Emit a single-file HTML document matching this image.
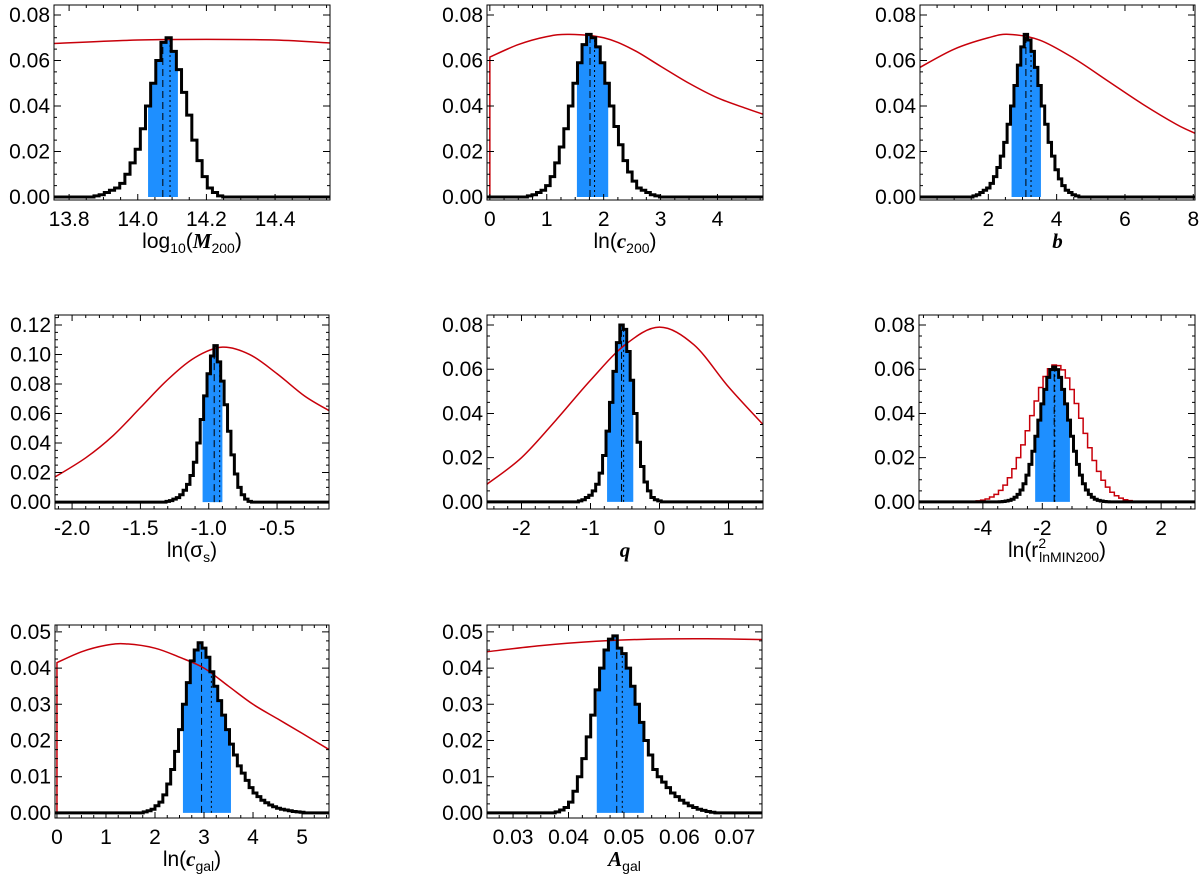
<!DOCTYPE html>
<html><head><meta charset="utf-8"><style>
html,body{margin:0;padding:0;background:#fff}
svg{display:block}
text{font-family:"Liberation Sans",sans-serif;fill:#000}
.tl{font-size:21px}
.ti{font-size:21px}
</style></head><body>
<svg id="fig" width="1200" height="881" viewBox="0 0 1200 881" xmlns="http://www.w3.org/2000/svg"></svg>
<script>
// ---- data (bin centers / values) ----
const p1HistX=[13.88,13.895,13.91,13.925,13.94,13.955,13.97,13.985,14.0,14.015,14.03,14.045,14.06,14.075,14.09,14.105,14.12,14.135,14.15,14.165,14.18,14.195,14.21,14.225,14.24];
const p1HistY=[0.0005,0.001,0.002,0.003,0.004,0.006,0.010,0.015,0.021,0.030,0.040,0.050,0.060,0.068,0.070,0.064,0.056,0.046,0.036,0.025,0.016,0.009,0.004,0.002,0.0005];
const p1PriorX=[13.756,14.0,14.2,14.4,14.56];
const p1PriorY=[0.0675,0.0690,0.0693,0.0690,0.0677];
const p1Band=[14.03,14.117];const p1Lines=[14.073,14.094];

const p2HistX=[0.70,0.78,0.86,0.94,1.02,1.10,1.18,1.26,1.34,1.42,1.50,1.58,1.66,1.74,1.82,1.90,1.98,2.06,2.14,2.22,2.30,2.38,2.46,2.54,2.62,2.70,2.78,2.86,2.94];
const p2HistY=[0.0005,0.001,0.002,0.003,0.005,0.009,0.015,0.022,0.030,0.040,0.050,0.059,0.067,0.0715,0.070,0.066,0.059,0.050,0.040,0.031,0.023,0.016,0.011,0.007,0.004,0.003,0.002,0.001,0.0005];
const p2PriorX=[0,0,0.5,1.0,1.4,2.0,2.5,3.0,3.5,4.0,4.5,4.8];
const p2PriorY=[0,0.0615,0.067,0.0705,0.0715,0.070,0.065,0.0575,0.050,0.0436,0.039,0.0364];
const p2Band=[1.53,2.08];const p2Lines=[1.76,1.84];

const p3HistX=[1.6,1.7,1.8,1.9,2.0,2.1,2.2,2.3,2.4,2.5,2.6,2.7,2.8,2.9,3.0,3.1,3.2,3.3,3.4,3.5,3.6,3.7,3.8,3.9,4.0,4.1,4.2,4.3,4.4,4.5,4.6];
const p3HistY=[0.0005,0.001,0.002,0.003,0.004,0.006,0.009,0.013,0.018,0.024,0.032,0.040,0.049,0.058,0.066,0.0715,0.069,0.064,0.057,0.049,0.040,0.032,0.024,0.018,0.012,0.008,0.005,0.003,0.002,0.001,0.0005];
const p3PriorX=[0,1,2,2.6,3.5,4.5,5.5,6.5,7.5,8.05];
const p3PriorY=[0.057,0.065,0.070,0.0715,0.069,0.061,0.051,0.041,0.032,0.028];
const p3Band=[2.68,3.54];const p3Lines=[3.1,3.25];

const p4HistX=[-1.3,-1.275,-1.25,-1.225,-1.2,-1.175,-1.15,-1.125,-1.1,-1.075,-1.05,-1.025,-1.0,-0.975,-0.95,-0.925,-0.9,-0.875,-0.85,-0.825,-0.8,-0.775,-0.75,-0.725,-0.7];
const p4HistY=[0.0005,0.001,0.002,0.003,0.005,0.008,0.012,0.018,0.027,0.040,0.056,0.072,0.087,0.099,0.106,0.095,0.082,0.066,0.048,0.032,0.019,0.010,0.005,0.002,0.0005];
const p4PriorX=[-2.125,-1.9,-1.7,-1.5,-1.3,-1.1,-0.9,-0.7,-0.5,-0.3,-0.12];
const p4PriorY=[0.017,0.030,0.045,0.064,0.083,0.098,0.105,0.100,0.087,0.072,0.062];
const p4Band=[-1.045,-0.90];const p4Lines=[-0.96,-0.92];

const p5HistX=[-1.15,-1.1,-1.05,-1.0,-0.95,-0.9,-0.85,-0.8,-0.75,-0.7,-0.65,-0.6,-0.55,-0.5,-0.45,-0.4,-0.35,-0.3,-0.25,-0.2,-0.15,-0.1,-0.05,0.0];
const p5HistY=[0.0005,0.001,0.002,0.003,0.005,0.008,0.013,0.021,0.032,0.045,0.059,0.072,0.080,0.078,0.068,0.055,0.040,0.027,0.016,0.009,0.005,0.002,0.001,0.0005];
const p5PriorX=[-2.5,-2,-1.5,-1,-0.5,0,0.5,1,1.5];
const p5PriorY=[0.008,0.020,0.037,0.055,0.071,0.079,0.071,0.052,0.035];
const p5Band=[-0.76,-0.38];const p5Lines=[-0.55,-0.52];

const p6HistX=[-3.4,-3.3,-3.2,-3.1,-3.0,-2.9,-2.8,-2.7,-2.6,-2.5,-2.4,-2.3,-2.2,-2.1,-2.0,-1.9,-1.8,-1.7,-1.6,-1.5,-1.4,-1.3,-1.2,-1.1,-1.0,-0.9,-0.8,-0.7,-0.6,-0.5,-0.4,-0.3,-0.2,-0.1,0.0,0.1,0.2];
const p6HistY=[0.0001,0.0002,0.0004,0.0007,0.0012,0.0021,0.0034,0.0054,0.0082,0.0121,0.0170,0.0229,0.0297,0.0370,0.0443,0.0509,0.0563,0.0598,0.061,0.0598,0.0563,0.0509,0.0443,0.0370,0.0297,0.0229,0.0170,0.0121,0.0082,0.0054,0.0034,0.0021,0.0012,0.0007,0.0004,0.0002,0.0001];
const p6RedX=[-4.6,-4.45,-4.3,-4.15,-4.0,-3.85,-3.7,-3.55,-3.4,-3.25,-3.1,-2.95,-2.8,-2.65,-2.5,-2.35,-2.2,-2.05,-1.9,-1.75,-1.6,-1.45,-1.3,-1.15,-1.0,-0.85,-0.7,-0.55,-0.4,-0.25,-0.1,0.05,0.2,0.35,0.5,0.65,0.8,0.95,1.1,1.25,1.4,1.55];
const p6RedY=[0.0001,0.0001,0.0003,0.0005,0.0008,0.0013,0.0022,0.0034,0.0052,0.0076,0.0109,0.0150,0.0200,0.0258,0.0322,0.0390,0.0456,0.0517,0.0567,0.0602,0.0619,0.0616,0.0597,0.0560,0.0508,0.0445,0.0378,0.0310,0.0245,0.0187,0.0138,0.0098,0.0067,0.0044,0.0028,0.0017,0.0010,0.0006,0.0003,0.0002,0.0001,0.0001];
const p6Band=[-2.24,-1.07];const p6Lines=[-1.6,-1.58];

const p7HistX=[1.8,1.88,1.96,2.04,2.12,2.2,2.28,2.36,2.44,2.52,2.6,2.68,2.76,2.84,2.92,3.0,3.08,3.16,3.24,3.32,3.40,3.48,3.56,3.64,3.72,3.80,3.88,3.96,4.04,4.12,4.2,4.28,4.36,4.44,4.52,4.6,4.68,4.76,4.84,4.92,5.0];
const p7HistY=[0.0003,0.0006,0.001,0.002,0.003,0.005,0.008,0.012,0.017,0.023,0.030,0.036,0.042,0.045,0.047,0.0455,0.043,0.039,0.035,0.031,0.027,0.023,0.019,0.016,0.013,0.011,0.009,0.007,0.0055,0.0045,0.0035,0.0028,0.0022,0.0017,0.0013,0.001,0.0008,0.0006,0.0004,0.0003,0.0002];
const p7PriorX=[0,0,0.5,1.0,1.4,2.0,2.5,3.0,3.5,4.0,4.5,5.0,5.55];
const p7PriorY=[0,0.0415,0.0445,0.0463,0.0467,0.0455,0.043,0.040,0.035,0.030,0.026,0.022,0.0175];
const p7Band=[2.57,3.55];const p7Lines=[2.95,3.15];

const p8HistX=[0.0380,0.0388,0.0396,0.0404,0.0412,0.0420,0.0428,0.0436,0.0444,0.0452,0.0460,0.0468,0.0476,0.0484,0.0492,0.0500,0.0508,0.0516,0.0524,0.0532,0.0540,0.0548,0.0556,0.0564,0.0572,0.0580,0.0588,0.0596,0.0604,0.0612,0.0620,0.0628,0.0636,0.0644,0.0652,0.0660];
const p8HistY=[0.0003,0.0008,0.0015,0.003,0.006,0.010,0.015,0.021,0.027,0.034,0.040,0.045,0.048,0.0489,0.0455,0.044,0.040,0.035,0.030,0.025,0.020,0.016,0.012,0.010,0.0085,0.007,0.0055,0.0045,0.0035,0.0027,0.002,0.0015,0.001,0.0007,0.0004,0.0002];
const p8PriorX=[0.0253,0.035,0.045,0.055,0.065,0.0749];
const p8PriorY=[0.0445,0.0462,0.0474,0.0480,0.0481,0.0479];
const p8Band=[0.0451,0.0536];const p8Lines=[0.0487,0.0497];

// ---- tick labels ----
const p1XTicks=[13.8,14.0,14.2,14.4];const p1XLabels=["13.8","14.0","14.2","14.4"];
const p2XTicks=[0,1,2,3,4];const p2XLabels=["0","1","2","3","4"];
const p3XTicks=[2,4,6,8];const p3XLabels=["2","4","6","8"];
const p4XTicks=[-2,-1.5,-1,-0.5];const p4XLabels=["-2.0","-1.5","-1.0","-0.5"];
const p5XTicks=[-2,-1,0,1];const p5XLabels=["-2","-1","0","1"];
const p6XTicks=[-4,-2,0,2];const p6XLabels=["-4","-2","0","2"];
const p7XTicks=[0,1,2,3,4,5];const p7XLabels=["0","1","2","3","4","5"];
const p8XTicks=[0.03,0.04,0.05,0.06,0.07];const p8XLabels=["0.03","0.04","0.05","0.06","0.07"];
const y8Ticks=[0,0.02,0.04,0.06,0.08];const y8Labels=["0.00","0.02","0.04","0.06","0.08"];
const y12Ticks=[0,0.02,0.04,0.06,0.08,0.10,0.12];const y12Labels=["0.00","0.02","0.04","0.06","0.08","0.10","0.12"];
const y5Ticks=[0,0.01,0.02,0.03,0.04,0.05];const y5Labels=["0.00","0.01","0.02","0.03","0.04","0.05"];

const NS="http://www.w3.org/2000/svg";
const svg=document.getElementById('fig');
function mk(tag,attrs,parent){const e=document.createElementNS(NS,tag);for(const k in attrs)e.setAttribute(k,attrs[k]);(parent||svg).appendChild(e);return e;}

const panels=[
 {id:'log-m200',px:[54,330],py:[5,200],xr:[13.756,14.56],yr:[-0.0013,0.0844],xt:p1XTicks,xl:p1XLabels,xm:0.05,yt:y8Ticks,yl:y8Labels,ym:0.005,hx:p1HistX,hy:p1HistY,rx:p1PriorX,ry:p1PriorY,band:p1Band,lines:p1Lines,title:'m200'},
 {id:'ln-c200',px:[487,763],py:[5,200],xr:[-0.05,4.8],yr:[-0.0013,0.0844],xt:p2XTicks,xl:p2XLabels,xm:0.25,yt:y8Ticks,yl:y8Labels,ym:0.005,hx:p2HistX,hy:p2HistY,rx:p2PriorX,ry:p2PriorY,band:p2Band,lines:p2Lines,title:'c200'},
 {id:'b',px:[920,1195],py:[5,200],xr:[0.0,8.05],yr:[-0.0013,0.0844],xt:p3XTicks,xl:p3XLabels,xm:0.5,yt:y8Ticks,yl:y8Labels,ym:0.005,hx:p3HistX,hy:p3HistY,rx:p3PriorX,ry:p3PriorY,band:p3Band,lines:p3Lines,title:'b'},
 {id:'ln-sigma-s',px:[55,329],py:[315,509],xr:[-2.125,-0.12],yr:[-0.0047,0.1268],xt:p4XTicks,xl:p4XLabels,xm:0.1,yt:y12Ticks,yl:y12Labels,ym:0.005,hx:p4HistX,hy:p4HistY,rx:p4PriorX,ry:p4PriorY,band:p4Band,lines:p4Lines,title:'sig'},
 {id:'q',px:[487,763],py:[315,509],xr:[-2.5,1.5],yr:[-0.0032,0.0845],xt:p5XTicks,xl:p5XLabels,xm:0.2,yt:y8Ticks,yl:y8Labels,ym:0.005,hx:p5HistX,hy:p5HistY,rx:p5PriorX,ry:p5PriorY,band:p5Band,lines:p5Lines,title:'q'},
 {id:'ln-r2',px:[919,1195],py:[315,509],xr:[-6.15,3.14],yr:[-0.0032,0.0845],xt:p6XTicks,xl:p6XLabels,xm:0.5,yt:y8Ticks,yl:y8Labels,ym:0.005,hx:p6HistX,hy:p6HistY,redHist:[p6RedX,p6RedY],band:p6Band,lines:p6Lines,title:'r2'},
 {id:'ln-cgal',px:[55,329],py:[625,818],xr:[-0.04,5.55],yr:[-0.0014,0.0519],xt:p7XTicks,xl:p7XLabels,xm:0.25,yt:y5Ticks,yl:y5Labels,ym:0.0025,hx:p7HistX,hy:p7HistY,rx:p7PriorX,ry:p7PriorY,band:p7Band,lines:p7Lines,title:'cgal'},
 {id:'a-gal',px:[487,762],py:[625,818],xr:[0.0253,0.0749],yr:[-0.0014,0.0519],xt:p8XTicks,xl:p8XLabels,xm:0.0025,yt:y5Ticks,yl:y5Labels,ym:0.0025,hx:p8HistX,hy:p8HistY,rx:p8PriorX,ry:p8PriorY,band:p8Band,lines:p8Lines,title:'agal'}
];

function histPts(P,X,Y,xs,ys){
 const w=X.length>1?(X[1]-X[0]):1;let pts=[[xs(P.xr[0]),ys(0)]];
 for(let i=0;i<X.length;i++){const a=X[i]-w/2,b=X[i]+w/2;
  if(i===0)pts.push([xs(a),ys(0)]);
  pts.push([xs(a),ys(Y[i])]);pts.push([xs(b),ys(Y[i])]);}
 pts.push([xs(X[X.length-1]+w/2),ys(0)]);pts.push([xs(P.xr[1]),ys(0)]);
 return pts;
}
function histAt(X,Y,v){const w=X[1]-X[0];for(let i=0;i<X.length;i++){if(v>=X[i]-w/2&&v<X[i]+w/2)return Y[i];}return 0;}
function smoothPath(pts){
 let d='M'+pts[0][0]+','+pts[0][1];
 for(let i=0;i<pts.length-1;i++){
  const p0=pts[Math.max(0,i-1)],p1=pts[i],p2=pts[i+1],p3=pts[Math.min(pts.length-1,i+2)];
  const c1=[p1[0]+(p2[0]-p0[0])/6,p1[1]+(p2[1]-p0[1])/6];
  const c2=[p2[0]-(p3[0]-p1[0])/6,p2[1]-(p3[1]-p1[1])/6];
  d+=`C${c1[0]},${c1[1]} ${c2[0]},${c2[1]} ${p2[0]},${p2[1]}`;
 }
 return d;
}

panels.forEach((P,pi)=>{
 const g=mk('g',{});
 
 
 const [x0,x1]=P.px,[yt,yb]=P.py;
 const xs=v=>x0+(v-P.xr[0])/(P.xr[1]-P.xr[0])*(x1-x0);
 const ys=v=>yb-(v-P.yr[0])/(P.yr[1]-P.yr[0])*(yb-yt);
 const cid='clip'+pi;
 const cp=mk('clipPath',{id:cid},g);mk('rect',{x:x0,y:yt,width:x1-x0,height:yb-yt},cp);
 const hp=histPts(P,P.hx,P.hy,xs,ys);
 const bc='band'+pi;const bcp=mk('clipPath',{id:bc},g);
 mk('rect',{x:xs(P.band[0]),y:yt,width:xs(P.band[1])-xs(P.band[0]),height:yb-yt},bcp);
 const bg=mk('g',{'clip-path':'url(#'+bc+')'},g);
 const band=mk('polygon',{points:hp.map(p=>p.join(',')).join(' '),fill:'#1e8fff',stroke:'none'},bg);
 
 
 const cg=mk('g',{'clip-path':'url(#'+cid+')'},g);
 const l1=mk('line',{x1:xs(P.lines[0]),x2:xs(P.lines[0]),y1:ys(0),y2:ys(histAt(P.hx,P.hy,P.lines[0])),stroke:'#000','stroke-width':1,'stroke-dasharray':'7,4'},cg);
 
 
 const l2=mk('line',{x1:xs(P.lines[1]),x2:xs(P.lines[1]),y1:ys(0),y2:ys(histAt(P.hx,P.hy,P.lines[1])),stroke:'#000','stroke-width':1,'stroke-dasharray':'2,3'},cg);
 
 
 let red;
 if(P.redHist){
  const rp=histPts(P,P.redHist[0],P.redHist[1],xs,ys);
  red=mk('polyline',{points:rp.map(p=>p.join(',')).join(' '),fill:'none',stroke:'#c8000a','stroke-width':1.5},cg);
 } else {
  let pts=P.rx.map((v,i)=>[xs(v),ys(P.ry[i])]);
  let d;
  if(P.rx[0]===P.rx[1]){d='M'+pts[0].join(',')+'L'+pts[1].join(',')+smoothPath(pts.slice(1)).replace(/^M[^C]*/,'');}
  else d=smoothPath(pts);
  red=mk('path',{d:d,fill:'none',stroke:'#c8000a','stroke-width':1.5},cg);
 }
 
 
 const hist=mk('polyline',{points:hp.map(p=>p.join(',')).join(' '),fill:'none',stroke:'#000','stroke-width':3,'stroke-linejoin':'miter'},cg);
 
 
 const fr=mk('rect',{x:x0,y:yt,width:x1-x0,height:yb-yt,fill:'none',stroke:'#000','stroke-width':1},g);
 
 
 let tk='';
 const xm0=Math.ceil(P.xr[0]/P.xm)*P.xm;
 for(let v=xm0;v<=P.xr[1]+1e-9;v+=P.xm){const X=xs(v);tk+=`M${X},${yb}v-3M${X},${yt}v3`;}
 P.xt.forEach(v=>{const X=xs(v);tk+=`M${X},${yb}v-6M${X},${yt}v6`;});
 for(let v=0;v<=P.yr[1]+1e-9;v+=P.ym){const Y=ys(v);tk+=`M${x0},${Y}h3M${x1},${Y}h-3`;}
 P.yt.forEach(v=>{const Y=ys(v);tk+=`M${x0},${Y}h7M${x1},${Y}h-7`;});
 mk('path',{d:tk,stroke:'#000','stroke-width':1,fill:'none'},g);
 P.xt.forEach((v,i)=>{const t=mk('text',{x:xs(v),y:yb+26,'text-anchor':'middle',class:'tl'},g);t.textContent=P.xl[i];
  
  });
 P.yt.forEach((v,i)=>{const t=mk('text',{x:x0-4,y:ys(v)+7,'text-anchor':'end',class:'tl'},g);t.textContent=P.yl[i];
  
  });
 const tx=(x0+x1)/2,ty=yb+48;
 const T=mk('text',{x:tx,y:ty,'text-anchor':'middle',class:'ti'},g);
 
 
 const sr='font-family:"Liberation Serif",serif;font-style:italic;font-weight:bold';
 const H={
  m200:`log<tspan font-size="14" dy="5">10</tspan><tspan dy="-5">(</tspan><tspan style='${sr}'>M</tspan><tspan font-size="14" dy="5">200</tspan><tspan dy="-5">)</tspan>`,
  c200:`ln(<tspan style='${sr}'>c</tspan><tspan font-size="14" dy="5">200</tspan><tspan dy="-5">)</tspan>`,
  b:`<tspan style='${sr}'>b</tspan>`,
  sig:`ln(σ<tspan font-size="14" dy="5">s</tspan><tspan dy="-5">)</tspan>`,
  q:`<tspan style='${sr}'>q</tspan>`,
  r2:`ln(r<tspan font-size="14" dy="-9">2</tspan><tspan font-size="14" dx="-7" dy="14">lnMIN200</tspan><tspan dy="-5">)</tspan>`,
  cgal:`ln(<tspan style='${sr}'>c</tspan><tspan font-size="14" dy="5">gal</tspan><tspan dy="-5">)</tspan>`,
  agal:`<tspan style='${sr}'>A</tspan><tspan font-size="14" dy="5">gal</tspan>`
 };
 T.innerHTML=H[P.title];
});
</script>
</body></html>
